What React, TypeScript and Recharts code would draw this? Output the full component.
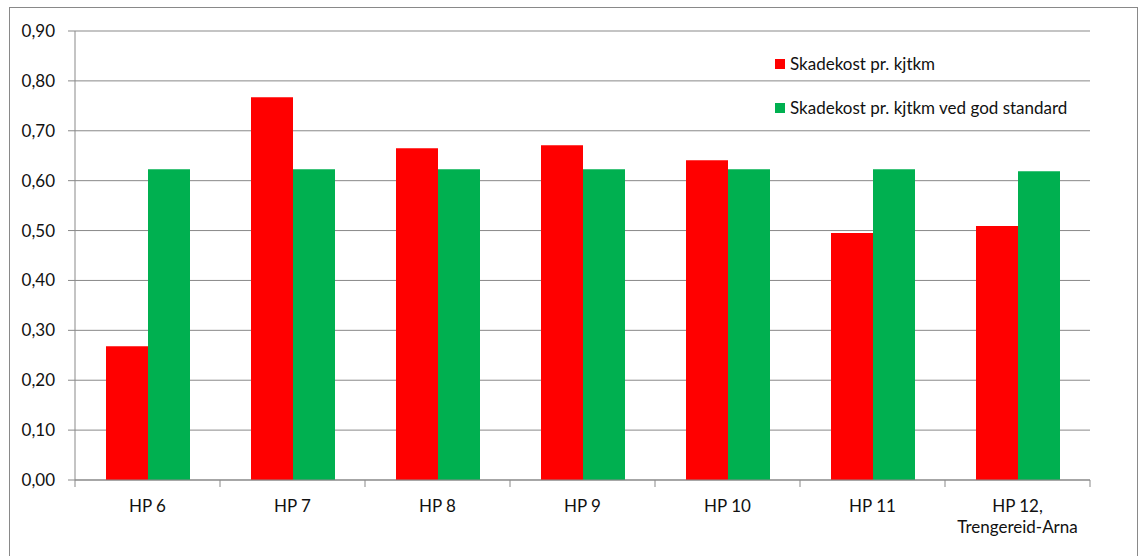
import { Bar, BarChart, CartesianGrid, Legend, XAxis, YAxis } from 'recharts';

const categories = ['HP 6', 'HP 7', 'HP 8', 'HP 9', 'HP 10', 'HP 11', 'HP 12, Trengereid-Arna'];
const skadekost = [0.268, 0.767, 0.665, 0.671, 0.641, 0.495, 0.509];
const skadekostGod = [0.623, 0.623, 0.623, 0.623, 0.623, 0.623, 0.619];
const yTicks = [0, 0.1, 0.2, 0.3, 0.4, 0.5, 0.6, 0.7, 0.8, 0.9];

const seriesNames = ['Skadekost pr. kjtkm', 'Skadekost pr. kjtkm ved god standard'];
const seriesColors = ['#FF0000', '#00B050'];

const data = categories.map((name, i) => ({
  name,
  a: skadekost[i],
  b: skadekostGod[i],
}));

const FONT = 'Lato, "Open Sans", sans-serif';
const AXIS = '#898989';
const TICK_SIZE = 7;
const TICK_MARGIN = 8;

const CategoryTick = (props: any) => {
  const { x, y, payload, index, visibleTicksCount } = props;
  const half = payload.offset || 0;
  const top = y - TICK_SIZE - TICK_MARGIN;
  const parts: string[] = String(payload.value).includes(', ')
    ? [payload.value.split(', ')[0] + ',', payload.value.split(', ')[1]]
    : [payload.value];
  return (
    <g>
      <line x1={x - half} x2={x - half} y1={top} y2={top + TICK_SIZE} stroke={AXIS} />
      {index === visibleTicksCount - 1 && (
        <line x1={x + half} x2={x + half} y1={top} y2={top + TICK_SIZE} stroke={AXIS} />
      )}
      <text x={x} y={y} textAnchor='middle' fill='#111' fontSize={17} fontFamily={FONT}>
        {parts.map((p, i) => (
          <tspan key={i} x={x} y={y + 17 + i * 21}>{p}</tspan>
        ))}
      </text>
    </g>
  );
};

const LegendContent = () => (
  <div style={{ fontFamily: FONT, fontSize: 17, color: '#111' }}>
    {seriesNames.map((n, i) => (
      <div key={n} style={{ display: 'flex', alignItems: 'center', height: 20, marginBottom: 24, whiteSpace: 'nowrap' }}>
        <span style={{ width: 10, height: 10, background: seriesColors[i], marginRight: 5, display: 'inline-block' }} />
        <span style={{ lineHeight: '20px' }}>{n}</span>
      </div>
    ))}
  </div>
);

export default function App() {
  return (
    <div
      style={{
        position: 'absolute',
        left: 9,
        top: 7,
        width: 1127,
        height: 560,
        border: `1px solid ${AXIS}`,
        background: '#fff',
      }}
    >
      <BarChart
        width={1127}
        height={548}
        data={data}
        margin={{ top: 23, right: 47, bottom: 16, left: 5 }}
        barCategoryGap={31}
        barGap={0}
      >
        <CartesianGrid vertical={false} stroke={AXIS} />
        <XAxis
          dataKey='name'
          height={60}
          interval={0}
          tickSize={TICK_SIZE}
          tickMargin={TICK_MARGIN}
          tickLine={false}
          axisLine={{ stroke: AXIS }}
          tick={<CategoryTick />}
        />
        <YAxis
          width={60}
          domain={[0, 0.9]}
          ticks={yTicks}
          interval={0}
          tickSize={TICK_SIZE}
          tickMargin={13}
          axisLine={{ stroke: AXIS }}
          tickLine={{ stroke: AXIS }}
          tickFormatter={(v: number) => v.toFixed(2).replace('.', ',')}
          tick={{ fill: '#111', fontSize: 17, fontFamily: FONT }}
        />
        <Legend
          layout='horizontal'
          verticalAlign='middle'
          align='center'
          content={<LegendContent />}
          wrapperStyle={{ top: 46, left: 765, width: 'auto' }}
        />
        <Bar dataKey='a' name={seriesNames[0]} fill={seriesColors[0]} isAnimationActive={false} />
        <Bar dataKey='b' name={seriesNames[1]} fill={seriesColors[1]} isAnimationActive={false} />
      </BarChart>
    </div>
  );
}
